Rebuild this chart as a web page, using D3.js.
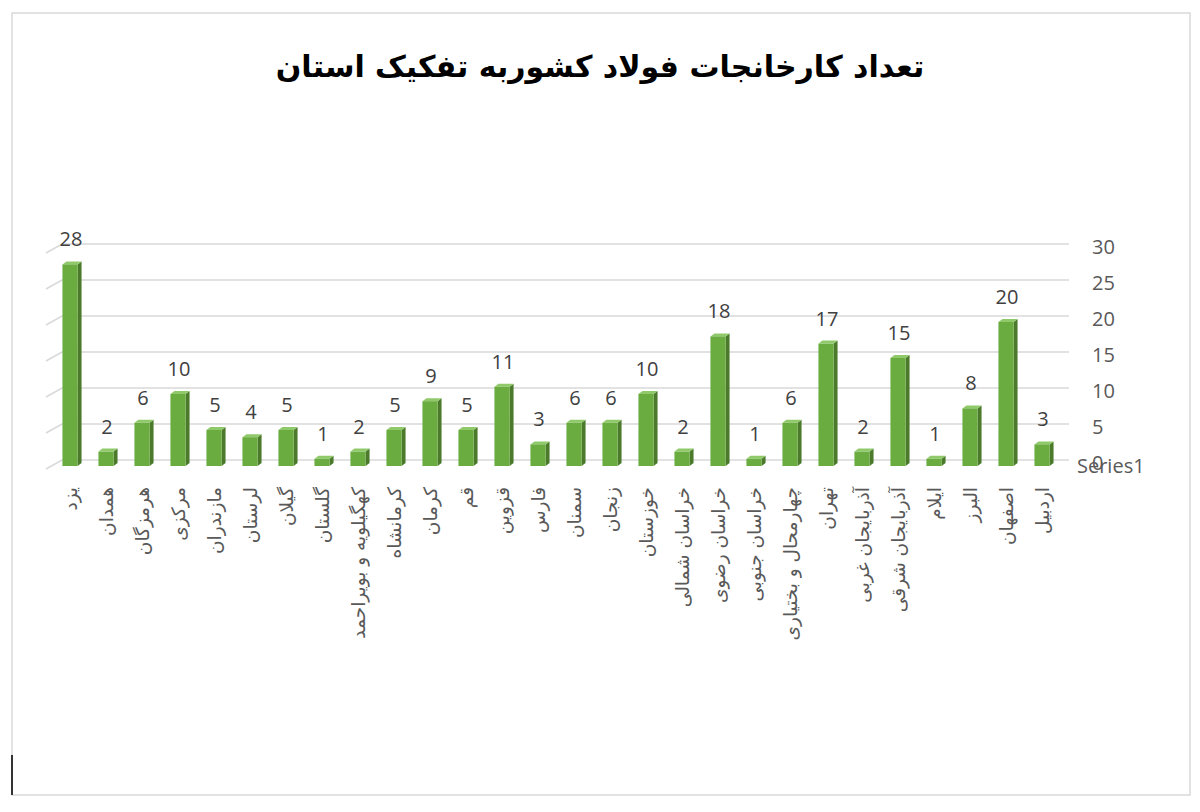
<!DOCTYPE html>
<html>
<head>
<meta charset="utf-8">
<script src="https://cdn.jsdelivr.net/npm/d3@7"></script>
<style>
  html, body { margin: 0; padding: 0; background: #fff; }
  svg { display: block; }
</style>
</head>
<body>
<svg id="chart" width="1200" height="812"></svg>
<script>
const title = "تعداد کارخانجات فولاد کشوربه تفکیک استان";
const categories = [
  "یزد", "همدان", "هرمزگان", "مرکزی", "مازندران", "لرستان", "گیلان", "گلستان",
  "کهگیلویه و بویراحمد", "کرمانشاه", "کرمان", "قم", "قزوین", "فارس", "سمنان", "زنجان",
  "خوزستان", "خراسان شمالی", "خراسان رضوی", "خراسان جنوبی", "چهارمحال و بختیاری", "تهران",
  "آذربایجان غربی", "آذربایجان شرقی", "ایلام", "البرز", "اصفهان", "اردبیل"
];
const values = [28, 2, 6, 10, 5, 4, 5, 1, 2, 5, 9, 5, 11, 3, 6, 6, 10, 2, 18, 1, 6, 17, 2, 15, 1, 8, 20, 3];
const yTicks = [0, 5, 10, 15, 20, 25, 30];
const seriesName = "Series1";

const svg = d3.select("#chart");

// frame
svg.append("rect").attr("x", 12).attr("y", 13).attr("width", 1178).attr("height", 782)
  .attr("fill", "#fff").attr("stroke", "#d9d9d9").attr("stroke-width", 1.5);
svg.append("line").attr("x1", 12).attr("x2", 12).attr("y1", 755).attr("y2", 795)
  .attr("stroke", "#333").attr("stroke-width", 2);

// title
svg.append("text").attr("x", 600).attr("y", 77).attr("text-anchor", "middle")
  .attr("font-family", "DejaVu Sans").attr("font-weight", "bold").attr("font-size", 30)
  .attr("fill", "#000").text(title);

const x = d3.scaleBand().domain(categories).range([52, 1060]).paddingInner(0.58).paddingOuter(0.29);
const y = d3.scaleLinear().domain([0, 30]).range([460, 244]);

// gridlines with 3D side-wall segments
const grid = svg.append("g");
yTicks.forEach(t => {
  const gy = y(t);
  grid.append("path")
    .attr("d", `M46,${gy + 9}L62,${gy}L1069,${gy}`)
    .attr("fill", "none").attr("stroke", "#d9d9d9").attr("stroke-width", 1.6);
});

// right axis
const axis = d3.axisRight(y).tickValues(yTicks).tickSize(0).tickPadding(0);
const ag = svg.append("g").attr("transform", "translate(1092,3)").call(axis);
ag.select(".domain").remove();
ag.selectAll("text").attr("font-family", "Open Sans").attr("font-size", 20).attr("fill", "#595959")
  .attr("x", 0);

svg.append("text").attr("x", 1077).attr("y", 473).attr("font-family", "Open Sans")
  .attr("font-size", 20).attr("fill", "#595959").text(seriesName);

// 3D bars
const dx = 4, dyv = 3, off = 6;
const bars = svg.append("g");
categories.forEach((c, i) => {
  const v = values[i];
  const w = x.bandwidth();
  const x0 = x(c);
  const top = y(v) + off, bot = y(0) + off;
  const g = bars.append("g");
  g.append("path")
    .attr("d", `M${x0 + w},${top}L${x0 + w + dx},${top - dyv}L${x0 + w + dx},${bot - dyv}L${x0 + w},${bot}Z`)
    .attr("fill", "#4a7a2a");
  g.append("path")
    .attr("d", `M${x0},${top}L${x0 + dx},${top - dyv}L${x0 + w + dx},${top - dyv}L${x0 + w},${top}Z`)
    .attr("fill", "#8fc96a");
  g.append("rect").attr("x", x0).attr("y", top).attr("width", w).attr("height", bot - top)
    .attr("fill", "#6aac3f");
  g.append("text").attr("x", x0 + w / 2 + 1).attr("y", y(v) - 12).attr("text-anchor", "middle")
    .attr("font-family", "Open Sans").attr("font-size", 20).attr("fill", "#404040").text(v);
});

// category labels (vertical)
const lg = svg.append("g");
categories.forEach(c => {
  const cx = x(c) + x.bandwidth() / 2 + 2;
  lg.append("text")
    .attr("transform", `translate(${cx},487) rotate(-90)`)
    .attr("text-anchor", "end").attr("dominant-baseline", "middle")
    .attr("font-family", "DejaVu Sans").attr("font-size", 18.5).attr("fill", "#595959")
    .text(c);
});
</script>
</body>
</html>
